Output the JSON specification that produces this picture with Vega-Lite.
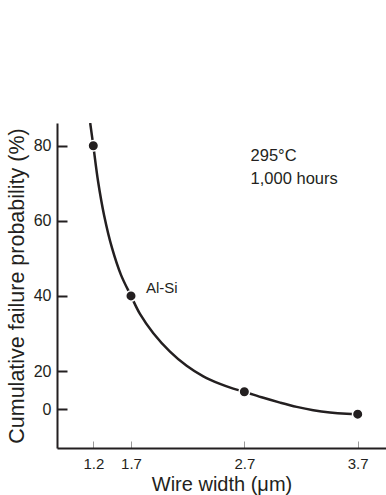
{
  "$schema": "https://vega.github.io/schema/vega-lite/v6.json",
  "width": 329,
  "height": 325,
  "autosize": "none",
  "padding": {"left": 57, "top": 123, "right": 0, "bottom": 47},
  "background": "white",
  "config": {"view": {"stroke": null}, "font": "Liberation Sans"},
  "datasets": {
    "curve": [
      {"x": 1.159, "y": 86}, {"x": 1.2, "y": 80}, {"x": 1.264, "y": 70.4}, {"x": 1.343, "y": 61.5},
      {"x": 1.449, "y": 52.7}, {"x": 1.567, "y": 45.6}, {"x": 1.7, "y": 40}, {"x": 1.779, "y": 35.2},
      {"x": 1.897, "y": 30.07}, {"x": 2.044, "y": 25.17}, {"x": 2.191, "y": 21.38}, {"x": 2.338, "y": 17.18},
      {"x": 2.485, "y": 13.26}, {"x": 2.602, "y": 10.81}, {"x": 2.7, "y": 9.14}, {"x": 2.868, "y": 6.0},
      {"x": 3.015, "y": 3.5}, {"x": 3.162, "y": 1.25}, {"x": 3.308, "y": -0.47}, {"x": 3.455, "y": -1.65},
      {"x": 3.602, "y": -2.33}, {"x": 3.7, "y": -2.53}
    ],
    "points": [
      {"x": 1.2, "y": 80}, {"x": 1.7, "y": 40}, {"x": 2.7, "y": 9.14}, {"x": 3.7, "y": -2.53}
    ],
    "alsi": [{"x": 1.832, "y": 40.7, "label": "Al-Si"}],
    "cond": [
      {"x": 2.755, "y": 75.8, "label": "295°C"},
      {"x": 2.755, "y": 69.8, "label": "1,000 hours"}
    ]
  },
  "encoding": {
    "x": {
      "field": "x", "type": "quantitative",
      "scale": {"domain": [0.72, 1.2, 1.7, 3.7, 3.95], "range": [0, 36.3, 74, 300.7, 329], "nice": false, "zero": false},
      "axis": {
        "title": "Wire width (μm)", "values": [1.2, 1.7, 2.7, 3.7], "format": ".1f", "grid": false,
        "domainColor": "#231f20", "domainWidth": 2, "tickColor": "#999999", "tickWidth": 1, "tickSize": -7,
        "labelFontSize": 15, "labelColor": "#231f20", "labelPadding": 15, "labelOverlap": false, "labelFlush": false,
        "titleFontSize": 20, "titleFontWeight": "normal", "titleColor": "#231f20", "titlePadding": 3
      }
    },
    "y": {
      "field": "y", "type": "quantitative",
      "scale": {"domain": [-20, 0, 20, 80, 86], "range": [325, 286.3, 248, 22.7, 0], "nice": false, "zero": false},
      "axis": {
        "title": "Cumulative failure probability (%)", "values": [0, 20, 40, 60, 80], "grid": false,
        "domainColor": "#231f20", "domainWidth": 2, "tickColor": "#231f20", "tickWidth": 2, "tickSize": -10,
        "labelFontSize": 16, "labelColor": "#231f20", "labelPadding": 16, "labelOverlap": false, "labelFlush": false,
        "titleFontSize": 21.5, "titleFontWeight": "normal", "titleColor": "#231f20", "titlePadding": 5
      }
    }
  },
  "layer": [
    {
      "data": {"name": "curve"},
      "mark": {"type": "line", "color": "#231f20", "strokeWidth": 2.5, "interpolate": "catmull-rom", "clip": true}
    },
    {
      "data": {"name": "points"},
      "mark": {"type": "point", "filled": true, "fill": "#231f20", "size": 110, "stroke": "white", "strokeWidth": 1.5, "opacity": 1, "strokeOpacity": 1}
    },
    {
      "data": {"name": "alsi"},
      "mark": {"type": "text", "align": "left", "baseline": "alphabetic", "fontSize": 15, "color": "#231f20"},
      "encoding": {"text": {"field": "label"}}
    },
    {
      "data": {"name": "cond"},
      "mark": {"type": "text", "align": "left", "baseline": "alphabetic", "fontSize": 16.5, "color": "#231f20"},
      "encoding": {"text": {"field": "label"}}
    }
  ]
}
